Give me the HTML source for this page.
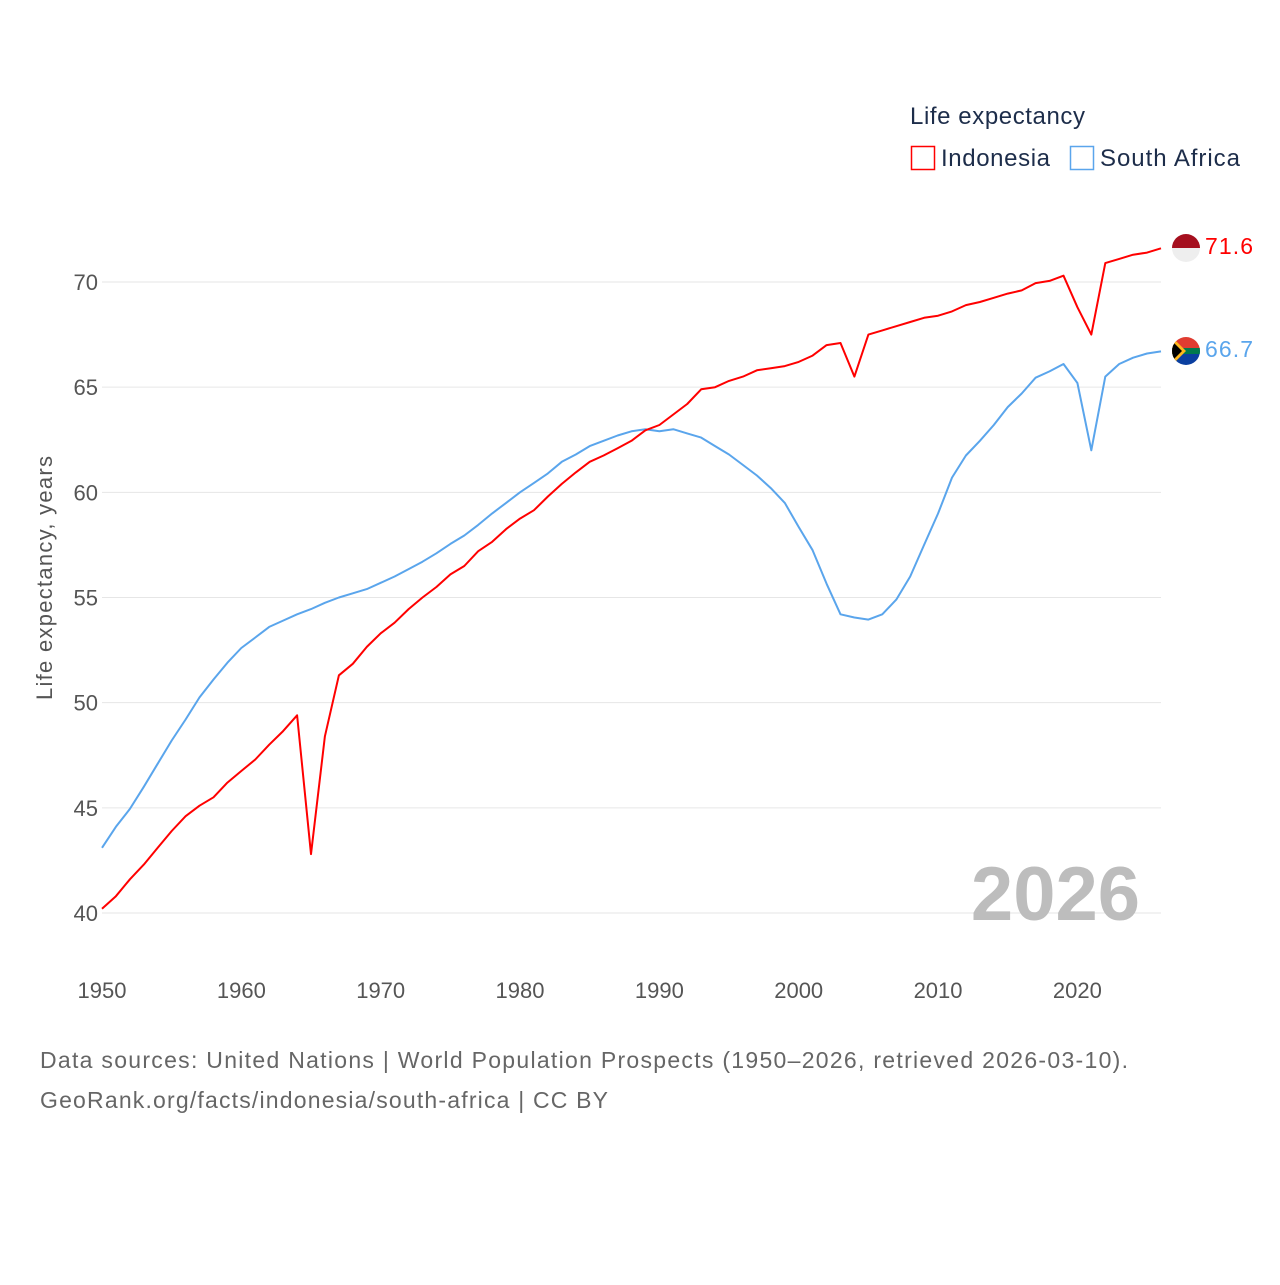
<!DOCTYPE html>
<html><head><meta charset="utf-8"><style>
html,body{margin:0;padding:0;background:#fff;}
svg text{font-family:"Liberation Sans",sans-serif;}
</style></head><body>
<svg id="chart" width="1280" height="1280" viewBox="0 0 1280 1280" xmlns="http://www.w3.org/2000/svg">
<g id="grid"></g>
<g id="yticks"></g>
<g id="xticks"></g>
<text x="52" y="578" transform="rotate(-90 52 578)" text-anchor="middle" font-size="22" fill="#555" textLength="244">Life expectancy, years</text>
<text x="1140" y="920" text-anchor="end" font-size="76" font-weight="bold" fill="#bdbdbd">2026</text>
<g id="series"></g>
<g>
<text x="910" y="124" font-size="24" fill="#1d2d4a" textLength="175">Life expectancy</text>
<g><rect x="911.5" y="146.5" width="23" height="23" fill="none" stroke="#ff0000" stroke-width="1.5"/><text x="941" y="166" font-size="24" fill="#1d2d4a" textLength="109">Indonesia</text></g>
<g><rect x="1070.5" y="146.5" width="23" height="23" fill="none" stroke="#5aa5ec" stroke-width="1.5"/><text x="1100" y="166" font-size="24" fill="#1d2d4a" textLength="140">South Africa</text></g>
</g>
<g><clipPath id="c1"><circle cx="1186" cy="248" r="14"/></clipPath><g clip-path="url(#c1)"><rect x="1172" y="234" width="28" height="14" fill="#a50f1e"/><rect x="1172" y="248" width="28" height="14" fill="#eee"/></g></g>
<g><clipPath id="c2"><circle cx="1186" cy="351" r="14"/></clipPath><g clip-path="url(#c2)"><rect x="1172" y="337" width="28" height="14" fill="#e03c31"/><rect x="1172" y="351" width="28" height="14" fill="#0a3fa0"/><rect x="1172" y="348" width="28" height="6" fill="#007a4d"/><polygon points="1172,337 1186,351 1172,365" fill="#ffb81c"/><polygon points="1172,341 1182,351 1172,361" fill="#000"/></g></g>
<text x="1205" y="254" font-size="23" fill="#ff0000" textLength="48">71.6</text>
<text x="1205" y="357" font-size="23" fill="#5aa5ec" textLength="48">66.7</text>
<text x="40" y="1068" font-size="23" fill="#666" textLength="1088">Data sources: United Nations | World Population Prospects (1950–2026, retrieved 2026-03-10).</text>
<text x="40" y="1108" font-size="23" fill="#666" textLength="568">GeoRank.org/facts/indonesia/south-africa | CC BY</text>
</svg>
<script>
const years = [];
for (let y = 1950; y <= 2026; y++) years.push(y);
const indonesia = [40.2,40.8,41.6,42.3,43.1,43.9,44.6,45.1,45.5,46.2,46.75,47.3,48.0,48.65,49.4,42.8,48.4,51.3,51.85,52.65,53.3,53.8,54.45,55.0,55.5,56.1,56.5,57.2,57.65,58.25,58.75,59.15,59.8,60.4,60.95,61.45,61.75,62.1,62.45,62.95,63.2,63.7,64.2,64.9,65.0,65.3,65.5,65.8,65.9,66.0,66.2,66.5,67.0,67.1,65.5,67.5,67.7,67.9,68.1,68.3,68.4,68.6,68.9,69.05,69.25,69.45,69.6,69.95,70.05,70.3,68.8,67.5,70.9,71.1,71.3,71.4,71.6];
const southAfrica = [43.1,44.1,44.95,46.0,47.1,48.2,49.2,50.25,51.1,51.9,52.6,53.1,53.6,53.9,54.2,54.45,54.75,55.0,55.2,55.4,55.7,56.0,56.35,56.7,57.1,57.55,57.95,58.45,59.0,59.5,60.0,60.45,60.9,61.45,61.8,62.2,62.45,62.7,62.9,63.0,62.9,63.0,62.8,62.6,62.2,61.8,61.3,60.8,60.2,59.5,58.35,57.25,55.65,54.2,54.05,53.95,54.2,54.9,56.0,57.5,59.0,60.7,61.75,62.45,63.2,64.05,64.7,65.45,65.75,66.1,65.2,62.0,65.5,66.1,66.4,66.6,66.7];
const yTicks = [40,45,50,55,60,65,70];
const xTicks = [1950,1960,1970,1980,1990,2000,2010,2020];
const NS = "http://www.w3.org/2000/svg";
function xs(yr){ return 102 + (yr - 1950) * (1161 - 102) / 76; }
function ys(v){ return 913 - (v - 40) * (913 - 282) / 30; }
function mk(tag, attrs, parent, txt){ const e = document.createElementNS(NS, tag); for (const k in attrs) e.setAttribute(k, attrs[k]); if (txt !== undefined) e.textContent = txt; parent.appendChild(e); return e; }
const grid = document.getElementById('grid'), yt = document.getElementById('yticks'), xt = document.getElementById('xticks'), ser = document.getElementById('series');
yTicks.forEach(v => {
  const l = mk('line', {x1:102, x2:1161, y1:ys(v), y2:ys(v), stroke:'#e6e6e6', 'stroke-width':1}, grid);
  
  
  const t = mk('text', {x:98, y:ys(v)+8, 'text-anchor':'end', 'font-size':22, fill:'#555'}, yt, String(v));
  
  
});
xTicks.forEach(v => {
  const t = mk('text', {x:xs(v), y:998, 'text-anchor':'middle', 'font-size':22, fill:'#555'}, xt, String(v));
  
  
});
function line(data, color, name){
  const d = data.map((v,i) => (i ? 'L' : 'M') + xs(years[i]).toFixed(1) + ',' + ys(v).toFixed(1)).join(' ');
  const p = mk('path', {d:d, fill:'none', stroke:color, 'stroke-width':2, 'stroke-linejoin':'round'}, ser);
  
  
}
line(southAfrica, '#5aa5ec', 'line-south-africa');
line(indonesia, '#ff0000', 'line-indonesia');
</script>
</body></html>
